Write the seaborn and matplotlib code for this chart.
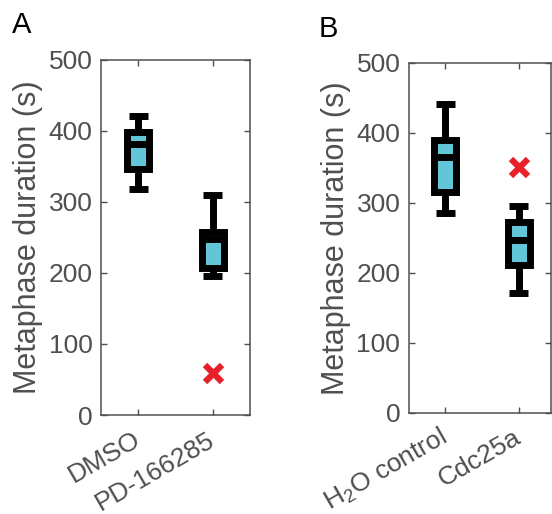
import numpy as np
import pandas as pd
import matplotlib
matplotlib.use('Agg')
import matplotlib.pyplot as plt
import seaborn as sns

# five-number summaries (whisker low, Q1, median, Q3, whisker high)
groups_a = ['DMSO', 'PD-166285']
whislo_a = [319, 196]
q1_a = [347, 207]
med_a = [381, 248]
q3_a = [399, 258]
whishi_a = [421, 310]
outlier_group_a = ['PD-166285']
outlier_val_a = [59]

groups_b = ['H$_2$O control', 'Cdc25a']
whislo_b = [285, 171]
q1_b = [316, 211]
med_b = [365, 247]
q3_b = [389, 272]
whishi_b = [441, 296]
outlier_group_b = ['Cdc25a']
outlier_val_b = [351]

yticks = [0, 100, 200, 300, 400, 500]

box_color = '#63C6D8'
grey = '#4f4f4f'

sns.set_style('white')
plt.rcParams['font.family'] = ['Liberation Sans', 'DejaVu Sans']
plt.rcParams['mathtext.fontset'] = 'custom'
plt.rcParams['mathtext.rm'] = 'Liberation Sans'
plt.rcParams['mathtext.it'] = 'Liberation Sans'
plt.rcParams['mathtext.bf'] = 'Liberation Sans'


def make_df(groups, lo, a, m, b, hi):
    rows = []
    for g, v1, v2, v3, v4, v5 in zip(groups, lo, a, m, b, hi):
        for v in (v1, v2, v3, v4, v5):
            rows.append({'group': g, 'value': v})
    return pd.DataFrame(rows)


def draw_panel(ax, df, groups, out_g, out_v, xmax):
    sns.boxplot(data=df, x='group', y='value', order=groups, ax=ax,
                color=box_color, saturation=1, linecolor='black', linewidth=5,
                width=0.3, whis=np.inf, showfliers=False, capwidths=0.26)
    for ln in ax.lines:
        ln.set_solid_capstyle('butt')
    odf = pd.DataFrame({'group': out_g, 'value': out_v})
    odf['pos'] = [groups.index(g) for g in out_g]
    sns.scatterplot(data=odf, x='pos', y='value', ax=ax, marker='x', s=150,
                    color='#E8202A', linewidth=4.5, legend=False, zorder=5)
    ax.set_xlim(-0.5, xmax)
    ax.set_ylim(0, 500)
    ax.set_yticks(yticks)
    ax.set_xticks([0, 1])
    ax.set_xticklabels(groups, rotation=30, ha='right', va='center',
                       rotation_mode='anchor', fontsize=19, color=grey)
    ax.tick_params(axis='y', labelsize=19, labelcolor=grey)
    ax.tick_params(direction='in', length=4, width=1, color=grey,
                   top=True, right=True, bottom=True, left=True, pad=6)
    ax.tick_params(axis='x', pad=16.5)
    for s in ax.spines.values():
        s.set_visible(True)
        s.set_color(grey)
        s.set_linewidth(1.1)
    ax.set_xlabel('')
    ax.set_ylabel('Metaphase duration (s)', fontsize=22, color=grey, labelpad=4)


fig = plt.figure(figsize=(5.52, 5.14), dpi=100)
ax_a = fig.add_axes([0.183, 0.1926, 0.270, 0.6907])
ax_b = fig.add_axes([0.7404, 0.197, 0.2578, 0.681])

draw_panel(ax_a, make_df(groups_a, whislo_a, q1_a, med_a, q3_a, whishi_a),
           groups_a, outlier_group_a, outlier_val_a, 1.5)
draw_panel(ax_b, make_df(groups_b, whislo_b, q1_b, med_b, q3_b, whishi_b),
           groups_b, outlier_group_b, outlier_val_b, 1.44)

fig.text(0.021, 0.978, 'A', fontsize=21, color='black', va='top', ha='left')
fig.text(0.577, 0.971, 'B', fontsize=21, color='black', va='top', ha='left')

fig.savefig('out.png', dpi=100)
